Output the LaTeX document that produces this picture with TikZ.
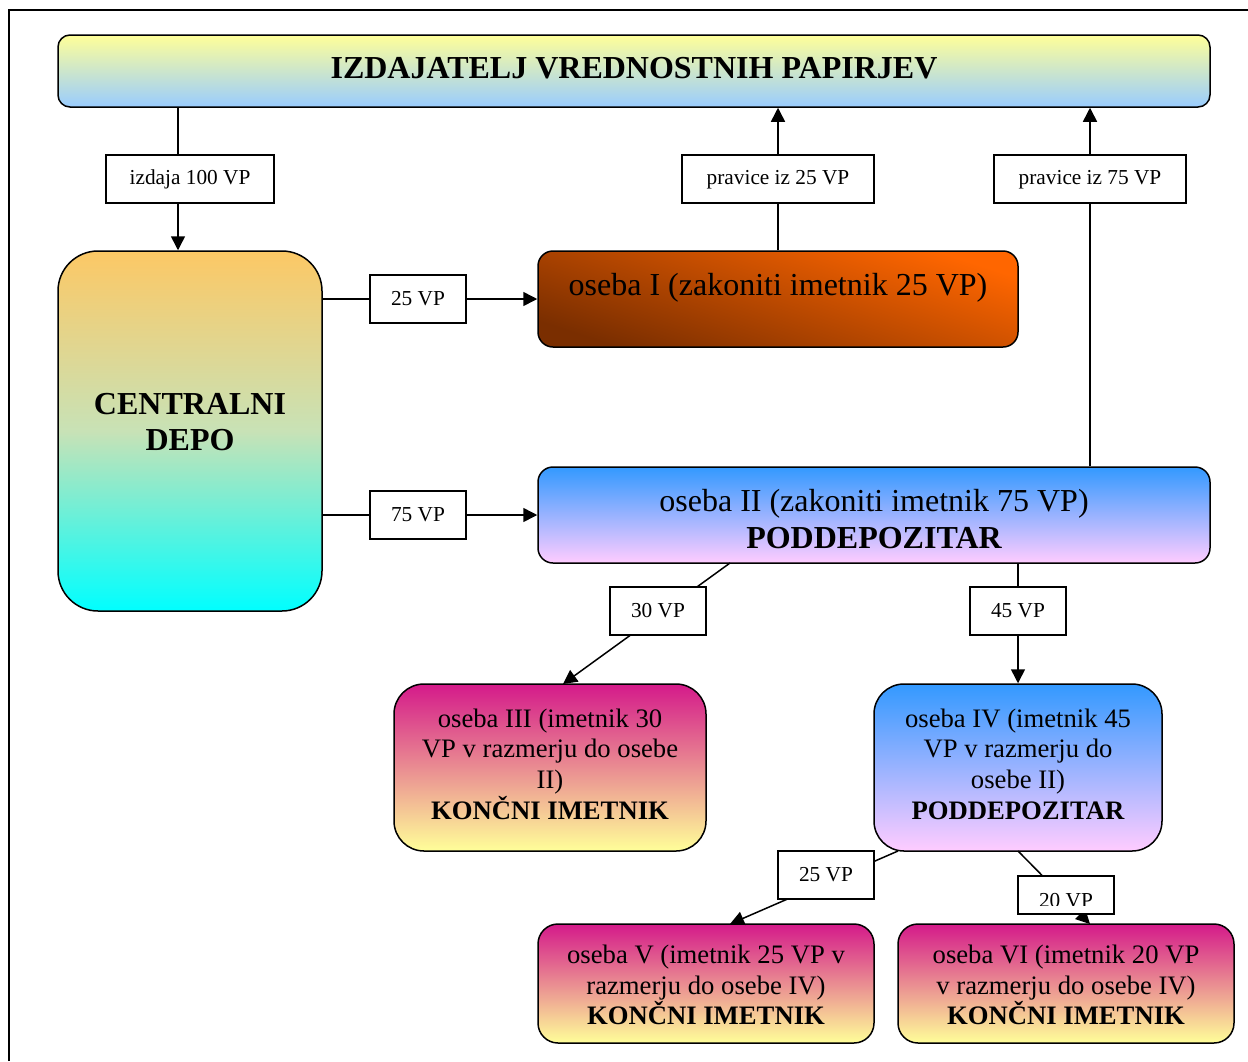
\documentclass[tikz,border=0pt]{standalone}
\usepackage{fontspec}
\setmainfont{Liberation Serif}
\usetikzlibrary{arrows.meta}
\definecolor{cyel}{HTML}{FFFF99}
\definecolor{cblu}{HTML}{99CCFF}
\definecolor{corg}{HTML}{FCC865}
\definecolor{cmid}{HTML}{C8E2B6}
\definecolor{ccya}{HTML}{00FFFF}
\definecolor{cbrn}{HTML}{7A2E00}
\definecolor{cora}{HTML}{FF6600}
\definecolor{csky}{HTML}{3399FF}
\definecolor{cpnk}{HTML}{FFCCFF}
\definecolor{cmag}{HTML}{D41A8A}
\begin{document}
\begin{tikzpicture}[x=1pt,y=-1pt,
  con/.style={line width=1.5pt},
  arr/.style={con,-{Triangle[length=14pt,width=14pt]}},
  lbl/.style={draw,line width=1.5pt,fill=white,minimum width=96pt,minimum height=48pt,inner sep=0pt,font=\fontsize{21.3}{25}\selectfont},
  rbox/.style={draw,line width=1.5pt,inner sep=0pt},
  big/.style={font=\fontsize{32}{36.8}\selectfont,align=center,inner sep=0pt},
  mid/.style={font=\fontsize{26.67}{30.7}\selectfont,align=center,inner sep=0pt},
  grmag/.style={top color=cmag,bottom color=cyel},
  grblu/.style={top color=csky,bottom color=cpnk}]
\useasboundingbox (0,0) rectangle (1248,1061);
\fill[white] (0,0) rectangle (1248,1061);
% frame
\draw[con] (9,1061) -- (9,10) -- (1248,10);
% boxes
\node[rbox,rounded corners=12pt,minimum width=1152pt,minimum height=72pt,top color=cyel,bottom color=cblu] (top) at (634,71) {};
\node[big] (ttop) at (634,68) {\bfseries IZDAJATELJ VREDNOSTNIH PAPIRJEV};
\node[rbox,rounded corners=40pt,minimum width=264pt,minimum height=360pt,top color=corg,bottom color=ccya,middle color=cmid] (depo) at (190,431) {};
\node[big] (tdepo) at (190,422) {\bfseries CENTRALNI\\\bfseries DEPO};
\node[rbox,rounded corners=15pt,minimum width=480pt,minimum height=96pt,top color=cora,bottom color=cbrn,shading angle=-18] (o1) at (778,299) {};
\node[big] (to1) at (778,288) {oseba I (zakoniti imetnik 25 VP)};
\node[rbox,rounded corners=15pt,minimum width=672pt,minimum height=96pt,grblu] (o2) at (874,515) {};
\node[big] (to2) at (874,519) {oseba II (zakoniti imetnik 75 VP)\\\bfseries PODDEPOZITAR};
\node[rbox,rounded corners=30pt,minimum width=312pt,minimum height=167pt,grmag] (o3) at (550,767.5) {};
\node[mid] (to3) at (550,764) {oseba III (imetnik 30\\VP v razmerju do osebe\\II)\\\bfseries KONČNI IMETNIK};
\node[rbox,rounded corners=30pt,minimum width=288pt,minimum height=167pt,grblu] (o4) at (1018,767.5) {};
\node[mid] (to4) at (1018,764) {oseba IV (imetnik 45\\VP v razmerju do\\osebe II)\\\bfseries PODDEPOZITAR};
\node[rbox,rounded corners=20pt,minimum width=336pt,minimum height=119pt,grmag] (o5) at (706,983.5) {};
\node[mid] (to5) at (706,985) {oseba V (imetnik 25 VP v\\razmerju do osebe IV)\\\bfseries KONČNI IMETNIK};
\node[rbox,rounded corners=20pt,minimum width=336pt,minimum height=119pt,grmag] (o6) at (1066,983.5) {};
\node[mid] (to6) at (1066,985) {oseba VI (imetnik 20 VP\\v razmerju do osebe IV)\\\bfseries KONČNI IMETNIK};
% coordinates
\coordinate (iz) at (178,179);
\coordinate (s30) at (730,563);
\coordinate (e30) at (563,684);
\coordinate (s25) at (898,851);
\coordinate (e25) at (730,924);
\coordinate (s20) at (1018,851);
\coordinate (e20) at (1090,924);
\coordinate (cp25) at (778,179);
\coordinate (cp75) at (1090,179);
\coordinate (c25) at (418,299);
\coordinate (c75) at (418,515);
\coordinate (c45) at (1018,611);
% connectors
\draw[con] (top.south -| iz) -- (iz);
\draw[arr] (iz) -- (depo.north -| iz);
\draw[con] (o1.north -| cp25) -- (cp25);
\draw[arr] (cp25) -- (top.south -| cp25);
\draw[con] (o2.north -| cp75) -- (cp75);
\draw[arr] (cp75) -- (top.south -| cp75);
\draw[con] (depo.east |- c25) -- (c25);
\draw[arr] (c25) -- (o1.west |- c25);
\draw[con] (depo.east |- c75) -- (c75);
\draw[arr] (c75) -- (o2.west |- c75);
\draw[arr] (s30) -- (e30);
\draw[arr] (o2.south -| c45) -- (o4.north -| c45);
\draw[arr] (s25) -- (e25);
\draw[arr] (s20) -- (e20);
% labels
\node[lbl,minimum width=168pt] (l100) at (190,179) {};
\node[inner sep=0pt,font=\fontsize{21.3}{25}\selectfont] (tl100) at (190,179.5) {izdaja 100 VP};
\node[lbl,minimum width=192pt] (p25) at (cp25) {};
\node[inner sep=0pt,font=\fontsize{21.3}{25}\selectfont] (tp25) at (778,179.5) {pravice iz 25 VP};
\node[lbl,minimum width=192pt] (p75) at (cp75) {};
\node[inner sep=0pt,font=\fontsize{21.3}{25}\selectfont] (tp75) at (1090,179.5) {pravice iz 75 VP};
\node[lbl] (l25) at (c25) {25 VP};
\node[lbl] (l75) at (c75) {75 VP};
\node[lbl] (l30) at (658,611) {30 VP};
\node[lbl] (l45) at (c45) {45 VP};
\node[lbl] (l25b) at (826,875) {25 VP};
\node[lbl,minimum height=38pt] (l20) at (1066,895) {};
\begin{scope}
\clip (1018,876) rectangle (1114,905);
\node[font=\fontsize{21.3}{25}\selectfont,inner sep=0pt,anchor=base] (t20) at (1066,907) {20 VP};
\end{scope}
\end{tikzpicture}
\end{document}
